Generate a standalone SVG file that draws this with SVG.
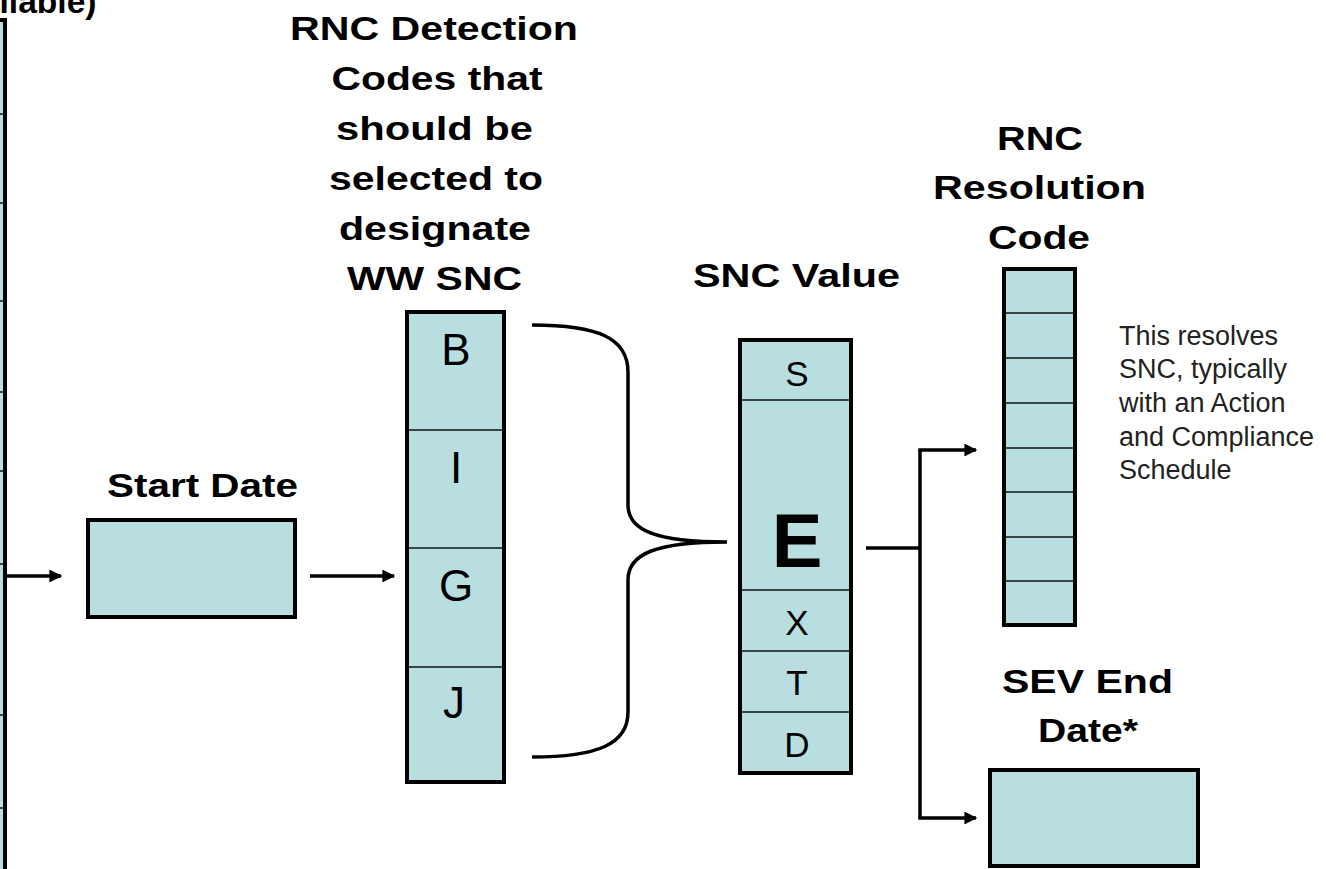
<svg xmlns="http://www.w3.org/2000/svg" width="1326" height="869" viewBox="0 0 1326 869">
<style>
.box{fill:#b8dee0;stroke:#000;stroke-width:4}
.div{stroke:#111;stroke-width:1.5}
.title{font-family:"Liberation Sans",Arial,sans-serif;font-weight:bold;font-size:34px;fill:#000;text-anchor:middle}
.cell{font-family:"Liberation Sans",Arial,sans-serif;font-size:44px;fill:#000;text-anchor:middle}
.cell2{font-family:"Liberation Sans",Arial,sans-serif;font-size:35px;fill:#000;text-anchor:middle}
.note{font-family:"Liberation Sans",Arial,sans-serif;font-size:27px;fill:#222}
.conn{fill:none;stroke:#000;stroke-width:3.5}
</style>
<defs>
<marker id="arr" viewBox="0 0 10 10" refX="9" refY="5" markerWidth="4.8" markerHeight="3.7" orient="auto" markerUnits="strokeWidth">
<path d="M0,0 L10,5 L0,10 Z" fill="#000"/>
</marker>
</defs>
<rect width="1326" height="869" fill="#fff"/>

<g id="left-column">
<rect class="box" x="-100" y="20" width="105" height="900"/>
<g class="div">
<line x1="0" y1="114" x2="3" y2="114"/>
<line x1="0" y1="203" x2="3" y2="203"/>
<line x1="0" y1="301" x2="3" y2="301"/>
<line x1="0" y1="392" x2="3" y2="392"/>
<line x1="0" y1="471" x2="3" y2="471"/>
<line x1="0" y1="564" x2="3" y2="564"/>
<line x1="0" y1="715" x2="3" y2="715"/>
<line x1="0" y1="808" x2="3" y2="808"/>
</g>
<text class="title" x="48" y="13" textLength="97" lengthAdjust="spacingAndGlyphs">ilable)</text>
</g>

<g id="start-date">
<text class="title" x="202.5" y="497" textLength="191" lengthAdjust="spacingAndGlyphs">Start Date</text>
<rect class="box" x="88" y="520" width="207" height="97"/>
</g>

<g id="detection-codes">
<text class="title" x="434" y="40" textLength="288" lengthAdjust="spacingAndGlyphs">RNC Detection</text>
<text class="title" x="437" y="90" textLength="211" lengthAdjust="spacingAndGlyphs">Codes that</text>
<text class="title" x="434.5" y="140" textLength="197" lengthAdjust="spacingAndGlyphs">should be</text>
<text class="title" x="436" y="190" textLength="214" lengthAdjust="spacingAndGlyphs">selected to</text>
<text class="title" x="435" y="240" textLength="192" lengthAdjust="spacingAndGlyphs">designate</text>
<text class="title" x="434.5" y="290" textLength="175" lengthAdjust="spacingAndGlyphs">WW SNC</text>
<rect class="box" x="407" y="312" width="97" height="470"/>
<g class="div">
<line x1="409" y1="430" x2="502" y2="430"/>
<line x1="409" y1="548" x2="502" y2="548"/>
<line x1="409" y1="667" x2="502" y2="667"/>
</g>
<text class="cell" x="456" y="365">B</text>
<text class="cell" x="456" y="483">I</text>
<text class="cell" x="456" y="601">G</text>
<text class="cell" x="454" y="718">J</text>
</g>

<g id="snc-value">
<text class="title" x="796.5" y="287" textLength="207" lengthAdjust="spacingAndGlyphs">SNC Value</text>
<rect class="box" x="740" y="340" width="111" height="433"/>
<g class="div">
<line x1="742" y1="400" x2="849" y2="400"/>
<line x1="742" y1="590" x2="849" y2="590"/>
<line x1="742" y1="651" x2="849" y2="651"/>
<line x1="742" y1="712" x2="849" y2="712"/>
</g>
<text class="cell2" x="797" y="386">S</text>
<text class="cell2" x="797" y="567" style="font-weight:bold;font-size:76px">E</text>
<text class="cell2" x="797" y="635">X</text>
<text class="cell2" x="797" y="695">T</text>
<text class="cell2" x="797" y="757">D</text>
</g>

<g id="resolution-code">
<text class="title" x="1040" y="150" textLength="86" lengthAdjust="spacingAndGlyphs">RNC</text>
<text class="title" x="1039.5" y="199" textLength="213" lengthAdjust="spacingAndGlyphs">Resolution</text>
<text class="title" x="1039" y="249" textLength="102" lengthAdjust="spacingAndGlyphs">Code</text>
<rect class="box" x="1004" y="269" width="71" height="356"/>
<g class="div">
<line x1="1006" y1="313" x2="1073" y2="313"/>
<line x1="1006" y1="358" x2="1073" y2="358"/>
<line x1="1006" y1="403" x2="1073" y2="403"/>
<line x1="1006" y1="448" x2="1073" y2="448"/>
<line x1="1006" y1="492" x2="1073" y2="492"/>
<line x1="1006" y1="537" x2="1073" y2="537"/>
<line x1="1006" y1="581" x2="1073" y2="581"/>
</g>
<text class="note" x="1119" y="345">This resolves</text>
<text class="note" x="1119" y="378">SNC, typically</text>
<text class="note" x="1119" y="412">with an Action</text>
<text class="note" x="1119" y="446">and Compliance</text>
<text class="note" x="1119" y="479">Schedule</text>
</g>

<g id="sev-end-date">
<text class="title" x="1087.5" y="693" textLength="171" lengthAdjust="spacingAndGlyphs">SEV End</text>
<text class="title" x="1088" y="742" textLength="100" lengthAdjust="spacingAndGlyphs">Date*</text>
<rect class="box" x="990" y="770" width="208" height="96"/>
</g>

<g id="connectors">
<line class="conn" x1="7" y1="576" x2="61" y2="576" marker-end="url(#arr)"/>
<line class="conn" x1="310" y1="576" x2="394" y2="576" marker-end="url(#arr)"/>
<path class="conn" d="M532,325 C598,325 628,338 628,372 L628,505 C628,530 655,542 727,542 C655,542 628,554 628,580 L628,712 C628,744 598,757 532,757"/>
<path class="conn" d="M866,548 H920"/>
<path class="conn" d="M920,450 V818"/>
<line class="conn" x1="918.3" y1="450" x2="976" y2="450" marker-end="url(#arr)"/>
<line class="conn" x1="918.3" y1="818" x2="976" y2="818" marker-end="url(#arr)"/>
</g>
</svg>
